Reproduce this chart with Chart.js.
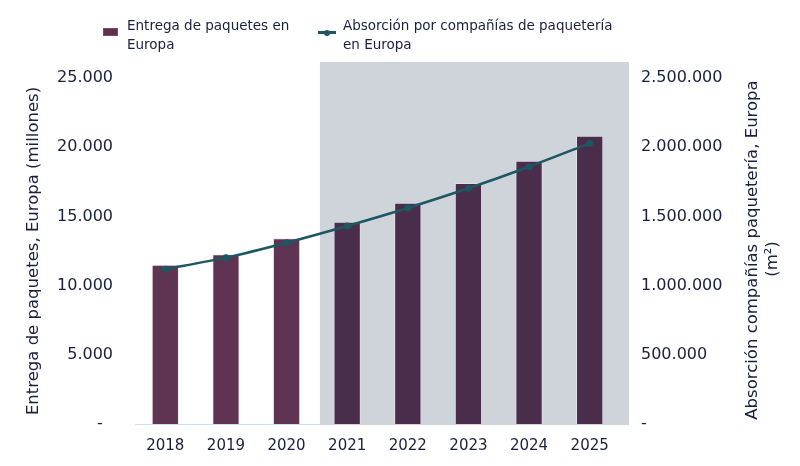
<!DOCTYPE html>
<html>
<head>
<meta charset="utf-8">
<script src="https://cdn.jsdelivr.net/npm/chart.js@4.4.1/dist/chart.umd.min.js"></script>
<style>
  html, body { margin: 0; padding: 0; background: #ffffff; }
  #wrap { position: relative; width: 800px; height: 466px; }
  canvas { position: absolute; left: 0; top: 0; }
  .leg { position: absolute; font-family: "DejaVu Sans", sans-serif; font-size: 13.5px; line-height: 18.7px; color: #1a1f3d; }
  .box { position: absolute; width: 15px; height: 8px; background: #5e3050; border: 1px solid #7a4c6c; box-sizing: border-box; }
  .ln { position: absolute; width: 18px; height: 3px; background: #1d5761; }
  .dot { position: absolute; width: 6px; height: 6px; border-radius: 50%; background: #1d5761; }
</style>
</head>
<body>
<div id="wrap">
  <canvas id="c" width="800" height="466"></canvas>
  <div class="box" style="left:103px; top:28px;"></div>
  <div class="leg" style="left:127px; top:16px;">Entrega de paquetes en<br>Europa</div>
  <div class="ln" style="left:318px; top:31px;"></div>
  <div class="dot" style="left:324px; top:29.5px;"></div>
  <div class="leg" style="left:343px; top:16px;">Absorción por compañías de paquetería<br>en Europa</div>
</div>
<script>
const categories = ['2018', '2019', '2020', '2021', '2022', '2023', '2024', '2025'];
const paquetes = [11500, 12270, 13420, 14620, 15980, 17420, 19020, 20820];
const absorcion = [1118000, 1202000, 1310000, 1431000, 1561000, 1703000, 1859000, 2028000];
const barColors = ['#5f3352', '#5f3352', '#5f3352', '#4a2d4b', '#4a2d4b', '#4a2d4b', '#4a2d4b', '#4a2d4b'];
const leftTicks = [0, 5000, 10000, 15000, 20000, 25000];
const rightTicks = [0, 500000, 1000000, 1500000, 2000000, 2500000];
const leftTitle = 'Entrega de paquetes, Europa (millones)';
const rightTitle = ['Absorción compañías paquetería, Europa', '(m²)'];

const FONT = '"DejaVu Sans", sans-serif';
const TXT = '#1a1f3d';

function fmt(v) {
  return String(v).replace(/\B(?=(\d{3})+(?!\d))/g, '.');
}

const shadePlugin = {
  id: 'shade',
  beforeDatasetsDraw(chart) {
    const {ctx, chartArea, scales} = chart;
    const x = scales.x;
    const left = (x.getPixelForValue(2) + x.getPixelForValue(3)) / 2 + 3;
    ctx.save();
    ctx.fillStyle = '#cfd3da';
    ctx.fillRect(left, chartArea.top - 16, chartArea.right + 9 - left, chartArea.bottom + 1 - (chartArea.top - 16));
    ctx.restore();
  }
};

const rightTitlePlugin = {
  id: 'rightTitle',
  afterDraw(chart) {
    const {ctx} = chart;
    ctx.save();
    ctx.fillStyle = TXT;
    ctx.font = '16.5px ' + FONT;
    ctx.textAlign = 'center';
    ctx.textBaseline = 'middle';
    ctx.translate(753, 250);
    ctx.rotate(-Math.PI / 2);
    ctx.fillText(rightTitle[0], 0, 0);
    ctx.restore();
    ctx.save();
    ctx.fillStyle = TXT;
    ctx.font = '16.5px ' + FONT;
    ctx.textAlign = 'center';
    ctx.textBaseline = 'middle';
    ctx.translate(773, 259);
    ctx.rotate(-Math.PI / 2);
    ctx.fillText(rightTitle[1], 0, 0);
    ctx.restore();
  }
};

new Chart(document.getElementById('c'), {
  data: {
    labels: categories,
    datasets: [
      {
        type: 'line',
        label: 'Absorción por compañías de paquetería en Europa',
        data: absorcion,
        yAxisID: 'y1',
        borderColor: '#1d5761',
        backgroundColor: '#1d5761',
        borderWidth: 2.5,
        pointRadius: 3.5,
        pointBackgroundColor: '#1d5761',
        pointBorderWidth: 0,
        tension: 0.25,
        order: 0
      },
      {
        type: 'bar',
        label: 'Entrega de paquetes en Europa',
        data: paquetes,
        yAxisID: 'y',
        backgroundColor: barColors,
        borderColor: 'rgba(240,225,235,0.7)',
        borderWidth: 1,
        barPercentage: 0.9,
        categoryPercentage: 0.5,
        order: 1
      }
    ]
  },
  options: {
    responsive: false,
    animation: false,
    layout: { padding: { top: 78, left: 0, right: 0, bottom: 0 } },
    plugins: { legend: { display: false }, tooltip: { enabled: false } },
    scales: {
      x: {
        grid: { display: false, drawTicks: false },
        border: { display: true, color: '#c9e2f5', width: 1 },
        ticks: { color: TXT, font: { family: FONT, size: 15 }, padding: 13 },
        afterFit(s) { s.height = 42; }
      },
      y: {
        position: 'left',
        min: 0, max: 25000,
        afterBuildTicks(s) { s.ticks = leftTicks.map(v => ({ value: v })); },
        grid: { display: false, drawTicks: false },
        border: { display: false },
        ticks: {
          color: TXT, font: { family: FONT, size: 16 }, padding: 22,
          callback: v => v === 0 ? '-  ' : fmt(v)
        },
        title: {
          display: true, text: leftTitle, color: TXT,
          font: { family: FONT, size: 16.5 }, padding: { top: 24, bottom: 0 }
        },
        afterFit(s) { s.width = 135; }
      },
      y1: {
        position: 'right',
        min: 0, max: 2500000,
        afterBuildTicks(s) { s.ticks = rightTicks.map(v => ({ value: v })); },
        grid: { display: false, drawTicks: false },
        border: { display: false },
        ticks: {
          color: TXT, font: { family: FONT, size: 16 }, padding: 21,
          callback: v => v === 0 ? '-' : fmt(v)
        },
        afterFit(s) { s.width = 180; }
      }
    }
  },
  plugins: [shadePlugin, rightTitlePlugin]
});
</script>
</body>
</html>
